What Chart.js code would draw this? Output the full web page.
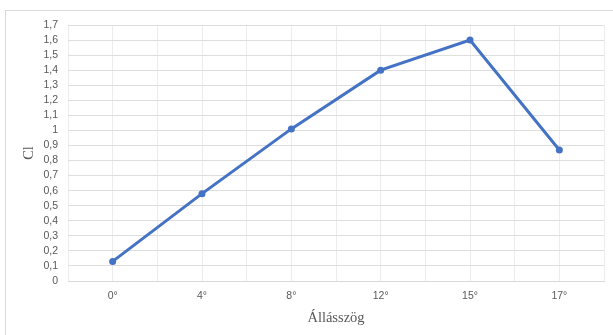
<!DOCTYPE html>
<html>
<head>
<meta charset="utf-8">
<script src="https://cdn.jsdelivr.net/npm/chart.js@4"></script>
<style>
  html, body { margin: 0; padding: 0; background: #ffffff; overflow: hidden; }
  #wrap { position: relative; width: 613px; height: 335px; }
  #frame {
    position: absolute; left: 5px; top: 10px; width: 700px; height: 400px;
    border-left: 1px solid #d9d9d9; border-top: 1px solid #d9d9d9;
    pointer-events: none;
  }
  canvas { position: absolute; left: 0; top: 0; }
</style>
</head>
<body>
<div id="wrap">
  <canvas id="chart" width="613" height="335"></canvas>
  <div id="frame"></div>
</div>
<script>
// Angle of attack categories and measured lift coefficient
const angles = ['0°', '4°', '8°', '12°', '15°', '17°'];
const clValues = [0.13, 0.58, 1.01, 1.40, 1.60, 0.87];
const yTickMax = 1.7;
const yTickStep = 0.1;

const points = angles.map((a, i) => ({ x: i, y: clValues[i] }));

const tickFont = { family: 'Liberation Sans, Arial, sans-serif', size: 10.5 };
const titleFont = { family: 'Liberation Serif, Times New Roman, serif', size: 14.5 };
const textColor = '#595959';

new Chart(document.getElementById('chart'), {
  type: 'line',
  data: {
    datasets: [{
      data: points,
      borderColor: '#4472c4',
      backgroundColor: '#4472c4',
      borderWidth: 3,
      pointRadius: 3.5,
      pointHoverRadius: 3.5,
      pointBorderWidth: 0,
      tension: 0
    }]
  },
  options: {
    responsive: false,
    animation: false,
    events: [],
    layout: { padding: { left: 0, right: 9, top: 25, bottom: 0 } },
    plugins: { legend: { display: false }, tooltip: { enabled: false } },
    scales: {
      x: {
        type: 'linear',
        min: -0.5,
        max: angles.length - 0.5,
        afterBuildTicks: (axis) => {
          const t = [];
          for (let v = -0.5; v <= angles.length - 0.5 + 1e-9; v += 0.5) t.push({ value: v });
          axis.ticks = t;
        },
        afterFit: (axis) => { axis.height = 54; },
        grid: { color: '#ececec', lineWidth: 1, drawTicks: false },
        border: { color: '#d9d9d9', width: 1 },
        ticks: {
          autoSkip: false,
          maxRotation: 0,
          padding: 9,
          color: textColor,
          font: tickFont,
          callback: (v) => Number.isInteger(v) ? angles[v] : ''
        },
        title: {
          display: true,
          text: 'Állásszög',
          color: textColor,
          font: titleFont,
          padding: { top: 4, bottom: 8 }
        }
      },
      y: {
        min: 0,
        max: yTickMax,
        afterBuildTicks: (axis) => {
          const t = [];
          const n = Math.round(yTickMax / yTickStep);
          for (let i = 0; i <= n; i++) t.push({ value: Math.round(i * yTickStep * 10) / 10 });
          axis.ticks = t;
        },
        afterFit: (axis) => { axis.width = 68; },
        grid: { color: '#dedede', lineWidth: 1, drawTicks: false },
        border: { display: false },
        ticks: {
          autoSkip: false,
          padding: 10,
          color: textColor,
          font: tickFont,
          callback: (v) => String(Math.round(v * 10) / 10).replace('.', ',')
        },
        title: {
          display: true,
          text: 'Cl',
          color: textColor,
          font: titleFont,
          padding: { top: 20, bottom: 0 }
        }
      }
    }
  }
});
</script>
</body>
</html>
